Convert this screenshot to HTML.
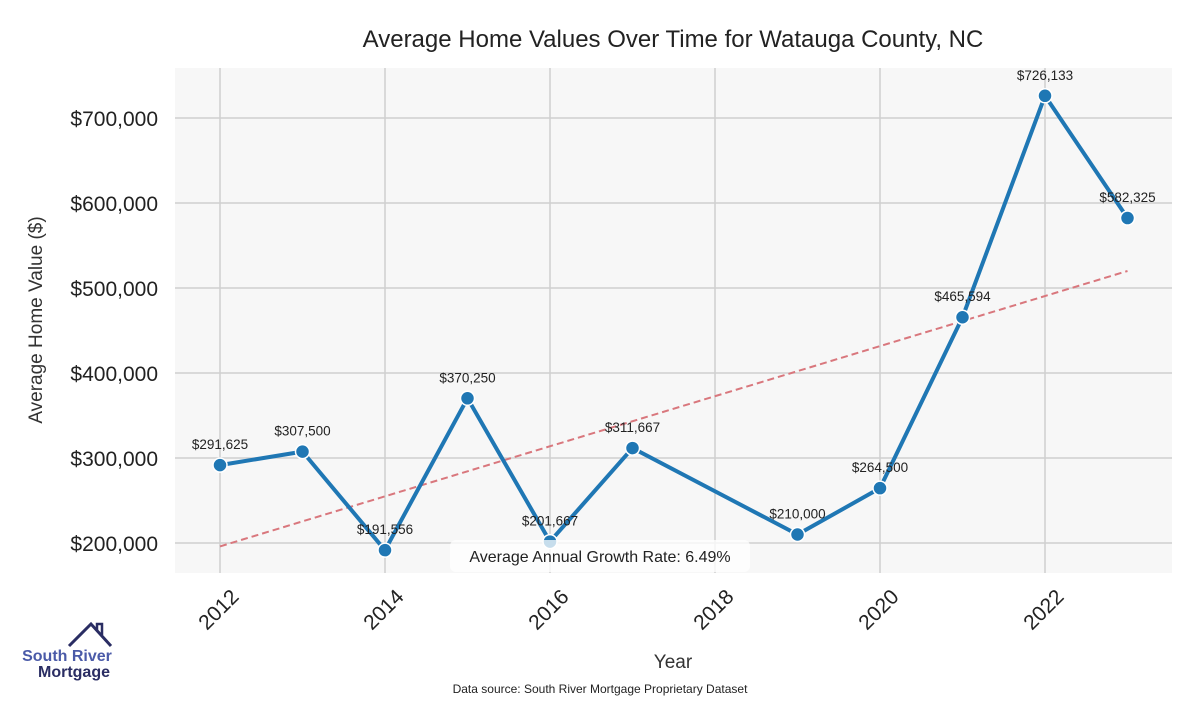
<!DOCTYPE html>
<html><head><meta charset="utf-8"><style>
body{margin:0;background:#fff;width:1200px;height:700px;overflow:hidden;font-family:"Liberation Sans",sans-serif}
</style></head><body>
<svg id="chart" width="1200" height="700" xmlns="http://www.w3.org/2000/svg">
<rect x="175" y="68" width="997" height="505" fill="#f7f7f7"/>
<g id="grid"></g>
<g id="series"></g>
<text x="673" y="47" text-anchor="middle" font-size="24" fill="#222">Average Home Values Over Time for Watauga County, NC</text>
<text transform="translate(42,320) rotate(-90)" text-anchor="middle" font-size="19" fill="#333">Average Home Value ($)</text>
<text x="673" y="668" text-anchor="middle" font-size="19" fill="#333">Year</text>
<text x="600" y="693" text-anchor="middle" font-size="12" fill="#222">Data source: South River Mortgage Proprietary Dataset</text>
<g>
<polyline points="69,646 91,624 111,646" fill="none" stroke="#2a2d63" stroke-width="3"/>
<polyline points="97,630 97,624 102,624 102,635" fill="none" stroke="#2a2d63" stroke-width="2.5"/>
<text x="67" y="661" text-anchor="middle" font-size="16" font-weight="bold" fill="#4a5aa8">South River</text>
<text x="74" y="677" text-anchor="middle" font-size="16" font-weight="bold" fill="#2a2d63">Mortgage</text>
</g>
</svg>
<script>
const years=[2012,2013,2014,2015,2016,2017,2019,2020,2021,2022,2023];
const values=[291625,307500,191556,370250,201667,311667,210000,264500,465594,726133,582325];
const yTicks=[200000,300000,400000,500000,600000,700000];
const xTicks=[2012,2014,2016,2018,2020,2022];
const trendStart=[2012,196000];
const trendEnd=[2023,520000];
const NS="http://www.w3.org/2000/svg";
const X=y=>220+(y-2012)*82.5;
const Y=v=>543-(v-200000)*0.00085;
function mk(tag,attrs,parent){const e=document.createElementNS(NS,tag);for(const k in attrs)e.setAttribute(k,attrs[k]);parent.appendChild(e);return e;}
const grid=document.getElementById('grid'),ser=document.getElementById('series');
yTicks.forEach(t=>{
 const l=mk('line',{x1:175,x2:1172,y1:Y(t),y2:Y(t),stroke:'#cfcfcf','stroke-width':1.5},grid);
 
 
 const tx=mk('text',{x:158,y:Y(t)+8,'text-anchor':'end','font-size':21,fill:'#222'},grid);
 tx.textContent='$'+t.toLocaleString('en-US');
 
 
});
xTicks.forEach(t=>{
 const l=mk('line',{x1:X(t),x2:X(t),y1:68,y2:573,stroke:'#cfcfcf','stroke-width':1.5},grid);
 
 
 const tx=mk('text',{transform:`translate(${X(t)+20},${598}) rotate(-45)`,'text-anchor':'end','font-size':21,fill:'#222'},grid);
 tx.textContent=t;
 
 
});
const tl=mk('line',{x1:X(trendStart[0]),y1:Y(trendStart[1]),x2:X(trendEnd[0]),y2:Y(trendEnd[1]),stroke:'#d9777d','stroke-width':2,'stroke-dasharray':'7,4'},ser);


const pl=mk('polyline',{points:years.map((y,i)=>X(y)+','+Y(values[i])).join(' '),fill:'none',stroke:'#1f77b4','stroke-width':4,'stroke-linejoin':'round'},ser);


years.forEach((y,i)=>{
 const c=mk('circle',{cx:X(y),cy:Y(values[i]),r:7,fill:'#1f77b4',stroke:'#fff','stroke-width':1.5},ser);
 
 
 const t=mk('text',{x:X(y),y:Y(values[i])-16,'text-anchor':'middle','font-size':13.5,fill:'#222'},ser);
 t.textContent='$'+values[i].toLocaleString('en-US');
 
 
});
const box=mk('rect',{x:450,y:540,width:300,height:32,rx:6,fill:'#fff','fill-opacity':0.75},ser);


const gt=mk('text',{x:600,y:562,'text-anchor':'middle','font-size':16,fill:'#222'},ser);
gt.textContent='Average Annual Growth Rate: 6.49%';


</script>
</body></html>
